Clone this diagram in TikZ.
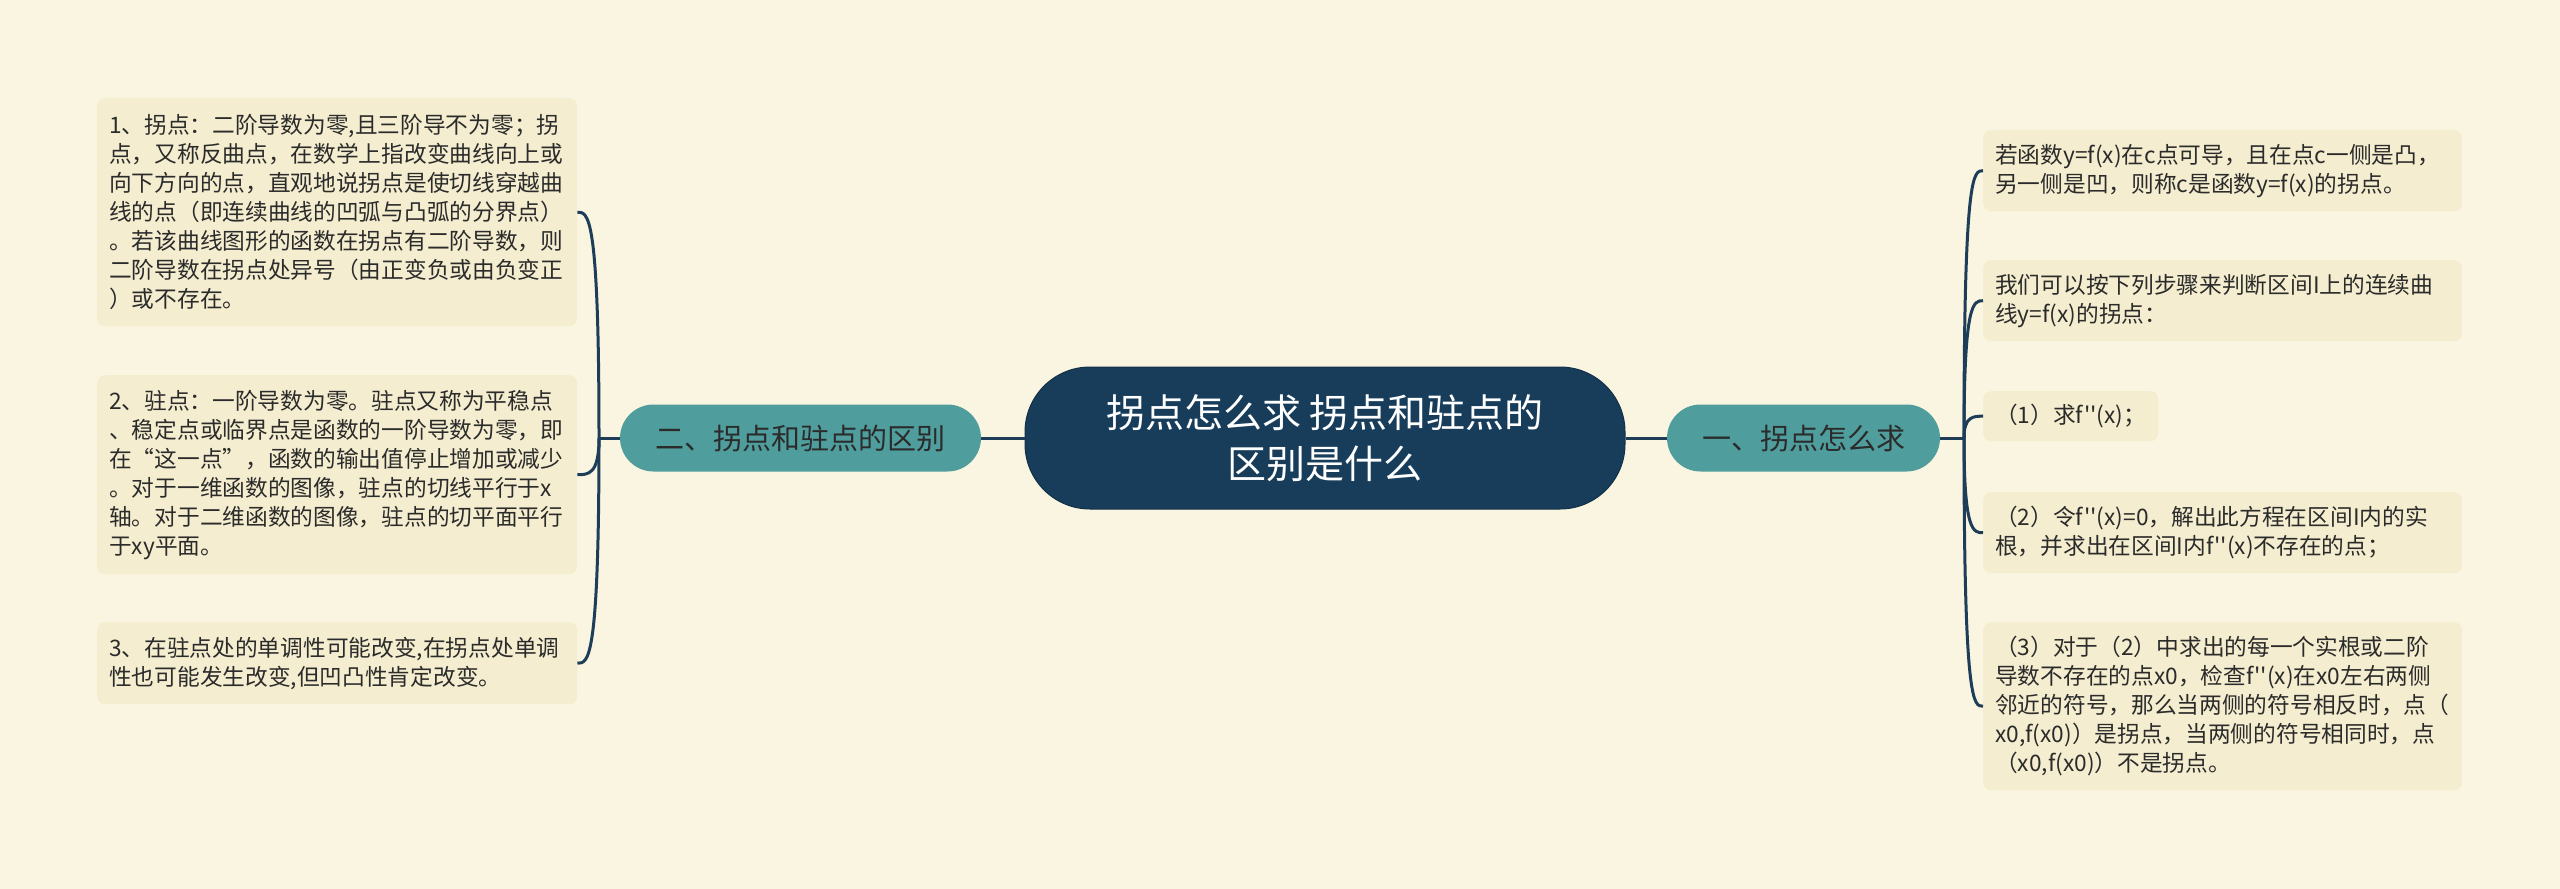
\documentclass[tikz,border=0pt]{standalone}
\usepackage{fontspec}
\newfontfamily\cjk{Noto Sans CJK SC}
\usetikzlibrary{calc}
\definecolor{bgc}{HTML}{FAF5E0}
\definecolor{boxc}{HTML}{F4EDCF}
\definecolor{navy}{HTML}{173D5A}
\definecolor{teal2}{HTML}{4F9E9D}
\definecolor{linec}{HTML}{1E3D58}
\definecolor{txt}{HTML}{2B2B2B}
\begin{document}
\begin{tikzpicture}[x=1pt,y=-1pt,
  every node/.style={font=\cjk},
  cnode/.style={fill=navy, draw=navy!80!black, line width=1pt, text=white, rounded corners=65pt,
    minimum width=600pt, minimum height=142pt, align=center,
    font=\cjk\fontsize{39}{51}\selectfont},
  tnode/.style={fill=teal2, text=txt, minimum height=67pt, rounded corners=33.5pt,
    font=\cjk\fontsize{29}{36}\selectfont, inner sep=0pt},
  tbox/.style={fill=boxc, text=txt, rounded corners=8pt, anchor=north west,
    inner xsep=12pt, inner ysep=0pt, align=left,
    font=\cjk\fontsize{22.7}{29}\selectfont},
  wbox/.style={tbox, text width=456pt},
  conn/.style={draw=linec, line width=3pt}
]
\fill[bgc] (0,0) rectangle (2560,889);
\useasboundingbox (0,0) rectangle (2560,889);

\node[cnode] (c) at (1325,438) {拐点怎么求 拐点和驻点的\\区别是什么};
\node[tnode, minimum width=361pt] (n2) at (800.5,438) {二、拐点和驻点的区别};
\node[tnode, minimum width=273pt] (n1) at (1803.5,438) {一、拐点怎么求};

\node[wbox, minimum height=228pt] (l1) at (97,98) {1、拐点：二阶导数为零,且三阶导不为零；拐\\点，又称反曲点，在数学上指改变曲线向上或\\向下方向的点，直观地说拐点是使切线穿越曲\\线的点（即连续曲线的凹弧与凸弧的分界点）\\。若该曲线图形的函数在拐点有二阶导数，则\\二阶导数在拐点处异号（由正变负或由负变正\\）或不存在。};
\node[wbox, minimum height=199pt] (l2) at (97,375) {2、驻点：一阶导数为零。驻点又称为平稳点\\、稳定点或临界点是函数的一阶导数为零，即\\在“这一点”，函数的输出值停止增加或减少\\。对于一维函数的图像，驻点的切线平行于x\\轴。对于二维函数的图像，驻点的切平面平行\\于xy平面。};
\node[wbox, minimum height=82pt] (l3) at (97,622) {3、在驻点处的单调性可能改变,在拐点处单调\\性也可能发生改变,但凹凸性肯定改变。};

\node[wbox, text width=455pt, minimum height=81pt] (r1) at (1983,130) {若函数y=f(x)在c点可导，且在点c一侧是凸，\\另一侧是凹，则称c是函数y=f(x)的拐点。};
\node[wbox, text width=455pt, minimum height=81pt] (r2) at (1983,260) {我们可以按下列步骤来判断区间I上的连续曲\\线y=f(x)的拐点：};
\node[tbox, minimum height=50pt] (r3) at (1983,391) {（1）求f''(x)；};
\node[wbox, text width=455pt, minimum height=81pt] (r4) at (1983,492) {（2）令f''(x)=0，解出此方程在区间I内的实\\根，并求出在区间I内f''(x)不存在的点；};
\node[wbox, text width=455pt, minimum height=168pt] (r5) at (1983,622) {（3）对于（2）中求出的每一个实根或二阶\\导数不存在的点x0，检查f''(x)在x0左右两侧\\邻近的符号，那么当两侧的符号相反时，点（\\x0,f(x0)）是拐点，当两侧的符号相同时，点\\（x0,f(x0)）不是拐点。};

\coordinate (JL) at (599,438);
\coordinate (JR) at (1964,438);
\draw[conn] (c.west) -- (n2.east);
\draw[conn] (c.east) -- (n1.west);
\draw[conn] (n2.west) -- (JL);
\draw[conn] (n1.east) -- (JR);
\foreach \b in {l1,l2,l3}
  \draw[conn] (JL) .. controls (JL |- \b.east) and ($(JL |- \b.east)!0.5!(\b.east)$) .. (\b.east);
\foreach \b in {r1,r2,r3,r4,r5}
  \draw[conn] (JR) .. controls (JR |- \b.west) and ($(JR |- \b.west)!0.5!(\b.west)$) .. (\b.west);
\end{tikzpicture}
\end{document}
